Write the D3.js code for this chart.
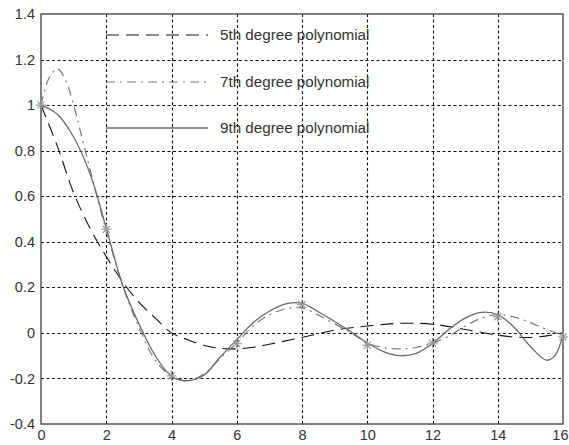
<!DOCTYPE html>
<html><head><meta charset="utf-8">
<script src="https://cdn.jsdelivr.net/npm/d3@7"></script>
<style>body{margin:0;background:#fff}svg{display:block}</style>
</head><body>
<script>
// ---- data ----
const xTicks = [0,2,4,6,8,10,12,14,16];
const yTicks = [-0.4,-0.2,0,0.2,0.4,0.6,0.8,1,1.2,1.4];
const yTickLabels = ["-0.4","-0.2","0","0.2","0.4","0.6","0.8","1","1.2","1.4"];

const dataX = [0,2,4,6,8,10,12,14,16];
const dataY = [1,0.455,-0.189,-0.047,0.124,-0.054,-0.045,0.071,-0.018];

const fit5X = [0,0.5,1,1.5,2,2.5,3,3.5,4,4.5,5,5.5,6,6.5,7,7.5,8,9,10,11,12,13,14,14.5,15,15.5,16];
const fit5Y = [1.0,0.82,0.615,0.46,0.335,0.225,0.135,0.066,0.0,-0.03,-0.055,-0.068,-0.07,-0.063,-0.05,-0.035,-0.02,0.012,0.03,0.042,0.038,0.015,-0.01,-0.018,-0.02,-0.013,0.0];

const fit7X = [0,0.25,0.5,0.75,1,1.25,1.5,1.75,2,2.5,3,3.5,4,4.5,5,5.5,6,6.5,7,7.5,8,8.5,9,9.5,10,10.5,11,11.5,12,12.5,13,13.5,14,14.5,15,15.5,16];
const fit7Y = [1.0,1.12,1.16,1.11,1.0,0.86,0.72,0.58,0.45,0.21,0.025,-0.12,-0.19,-0.21,-0.18,-0.11,-0.045,0.03,0.08,0.105,0.11,0.078,0.04,0.0,-0.044,-0.065,-0.07,-0.064,-0.045,-0.015,0.03,0.065,0.08,0.07,0.045,0.015,-0.01];

const fit9X = [0,0.5,1,1.5,2,2.5,3,3.5,4,4.5,5,5.5,6,6.5,7,7.5,8,8.5,9,9.5,10,10.5,11,11.5,12,12.5,13,13.5,14,14.5,15,15.5,15.75,16];
const fit9Y = [1.0,0.96,0.86,0.70,0.46,0.21,0.04,-0.10,-0.19,-0.21,-0.185,-0.105,-0.03,0.045,0.095,0.127,0.13,0.093,0.05,0.005,-0.044,-0.082,-0.1,-0.09,-0.046,0.015,0.065,0.09,0.08,0.025,-0.06,-0.12,-0.1,-0.01];

const legendLabels = ["5th degree polynomial","7th degree polynomial","9th degree polynomial"];

// ---- layout ----
const W = 569, H = 445;
const m = {left:41, right:6, top:14, bottom:21};
const svg = d3.select("body").append("svg").attr("width",W).attr("height",H);
const x = d3.scaleLinear().domain([0,16]).range([m.left, W-m.right]);
const y = d3.scaleLinear().domain([-0.4,1.4]).range([H-m.bottom, m.top]);

// grid
const grid = svg.append("g").attr("stroke","#111").attr("stroke-width",1.1).attr("stroke-dasharray","3,2.5");
grid.selectAll(".gx").data(xTicks.slice(1,-1)).join("line")
  .attr("x1",d=>Math.round(x(d))+0.5).attr("x2",d=>Math.round(x(d))+0.5)
  .attr("y1",y(1.4)).attr("y2",y(-0.4));
grid.selectAll(".gy").data(yTicks.slice(1,-1)).join("line")
  .attr("y1",d=>Math.round(y(d))+0.5).attr("y2",d=>Math.round(y(d))+0.5)
  .attr("x1",x(0)).attr("x2",x(16));

// axes labels via d3 axes
const fontFam = "'Liberation Sans', Arial, sans-serif";
const ax = svg.append("g").attr("transform",`translate(0,${y(-0.4)})`)
  .call(d3.axisBottom(x).tickValues(xTicks).tickSize(0).tickPadding(6).tickFormat(d3.format("d")));
const ay = svg.append("g").attr("transform",`translate(${x(0)},0)`)
  .call(d3.axisLeft(y).tickValues(yTicks).tickSize(0).tickPadding(6).tickFormat((d,i)=>yTickLabels[i]));
[ax,ay].forEach(g=>{
  g.select(".domain").remove();
  g.selectAll("text").attr("font-family",fontFam).attr("font-size",14.5).attr("fill","#333");
});
// keep the last x label inside the window
ax.selectAll(".tick").filter(d=>d===16).select("text")
  .attr("text-anchor","end").attr("dx", (W-1) - x(16));

// frame
svg.append("rect").attr("x",x(0)).attr("y",y(1.4)).attr("width",x(16)-x(0)).attr("height",y(-0.4)-y(1.4))
  .attr("fill","none").attr("stroke","#555").attr("stroke-width",1.5);

// curves
const line = d3.line().x(d=>x(d[0])).y(d=>y(d[1])).curve(d3.curveCatmullRom.alpha(0.5));
const series = [
  {xs:fit5X, ys:fit5Y, color:"#111", dash:"13,7", w:1.1},
  {xs:fit7X, ys:fit7Y, color:"#7a7a7a", dash:"9,5,2,5", w:1.2},
  {xs:fit9X, ys:fit9Y, color:"#6a6a6a", dash:null, w:1.3}
];
series.forEach(s=>{
  svg.append("path").datum(s.xs.map((v,i)=>[v,s.ys[i]]))
    .attr("d",line).attr("fill","none").attr("stroke",s.color)
    .attr("stroke-width",s.w).attr("stroke-dasharray",s.dash);
});

// data markers (asterisks)
const mk = svg.append("g").attr("stroke","#999").attr("stroke-width",1.2).attr("fill","none");
dataX.forEach((v,i)=>{
  const g = mk.append("g").attr("transform",`translate(${x(v)},${y(dataY[i])})`);
  const r = 5;
  g.append("line").attr("x1",-r).attr("x2",r).attr("y1",0).attr("y2",0);
  g.append("line").attr("x1",0).attr("x2",0).attr("y1",-r).attr("y2",r);
  g.append("line").attr("x1",-r*0.7).attr("x2",r*0.7).attr("y1",-r*0.7).attr("y2",r*0.7);
  g.append("line").attr("x1",-r*0.7).attr("x2",r*0.7).attr("y1",r*0.7).attr("y2",-r*0.7);
});

// legend (no box)
const legY = [35, 82, 128];
const lg = svg.append("g");
series.forEach((s,i)=>{
  lg.append("line").attr("x1",106).attr("x2",208).attr("y1",legY[i]).attr("y2",legY[i])
    .attr("stroke",s.color).attr("stroke-width",s.w).attr("stroke-dasharray",s.dash);
  lg.append("text").attr("x",220).attr("y",legY[i]+5).text(legendLabels[i])
    .attr("font-family",fontFam).attr("font-size",15.2).attr("fill","#333");
});
</script>
</body></html>
